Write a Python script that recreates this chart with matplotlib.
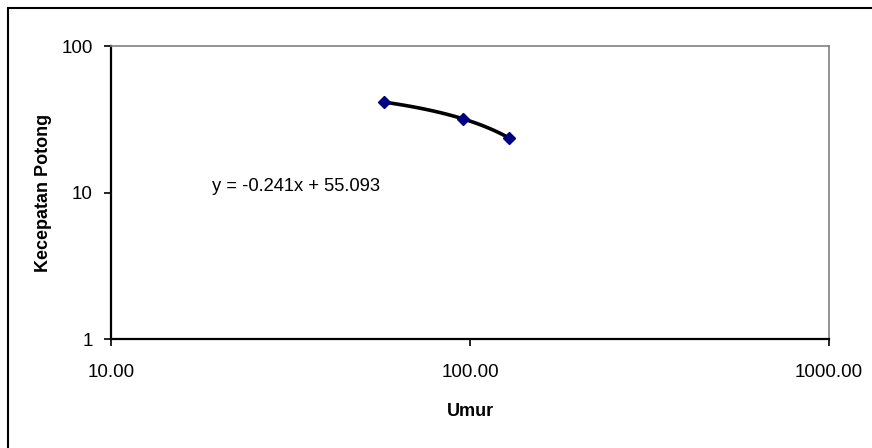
import numpy as np
import matplotlib
matplotlib.use("Agg")
import matplotlib.pyplot as plt
from matplotlib.patches import Rectangle
from matplotlib.ticker import FixedLocator, FixedFormatter, NullLocator

# dane
umur = [57.5, 95.5, 128.5]
kecepatan = [41.8, 31.8, 23.8]
x_ticks = [10, 100, 1000]
x_labels = ["10.00", "100.00", "1000.00"]
y_ticks = [1, 10, 100]
y_labels = ["1", "10", "100"]
persamaan = "y = -0.241x + 55.093"

plt.rcParams["font.family"] = ["Liberation Sans", "DejaVu Sans"]

fig = plt.figure(figsize=(8.72, 4.48), dpi=100)
ax = fig.add_axes([111 / 872, 1 - 339 / 448, 718 / 872, 292.5 / 448])

# garis tren liniowy (dopasowany do danych), na osiach log wygląda na krzywą
a, b = np.polyfit(umur, kecepatan, 1)
xs = np.linspace(min(umur), max(umur), 100)
ax.plot(xs, a * xs + b, color="black", linewidth=2.6, zorder=2)
ax.plot(umur, kecepatan, linestyle="none", marker="D", markersize=6.5,
        color="#000080", zorder=3)

ax.set_xscale("log")
ax.set_yscale("log")
ax.set_xlim(10, 1000)
ax.set_ylim(1, 100)

ax.xaxis.set_major_locator(FixedLocator(x_ticks))
ax.xaxis.set_major_formatter(FixedFormatter(x_labels))
ax.xaxis.set_minor_locator(NullLocator())
ax.yaxis.set_major_locator(FixedLocator(y_ticks))
ax.yaxis.set_major_formatter(FixedFormatter(y_labels))
ax.yaxis.set_minor_locator(NullLocator())
ax.tick_params(direction="out", length=5, width=1.2, labelsize=13.5, colors="black")
ax.tick_params(axis="x", pad=13)
ax.tick_params(axis="y", pad=8)

for s in ["left", "bottom"]:
    ax.spines[s].set_color("black")
    ax.spines[s].set_linewidth(1.6)
for s in ["top", "right"]:
    ax.spines[s].set_color("#808080")
    ax.spines[s].set_linewidth(1.2)

ax.set_xlabel("Umur", fontsize=13, fontweight="bold", labelpad=16)
ax.set_ylabel("Kecepatan Potong", fontsize=13, fontweight="bold", labelpad=7)

ax.text(19.1, 11, persamaan, fontsize=13.2, va="center", ha="left")

# ramka całego wykresu (prawa i dolna krawędź poza obrazem)
fig.patches.append(Rectangle((8 / 872, -0.2), 1.2, 0.2 + 440 / 448,
                             transform=fig.transFigure, fill=False,
                             edgecolor="black", linewidth=1.5))

fig.savefig("out.png", dpi=100)
